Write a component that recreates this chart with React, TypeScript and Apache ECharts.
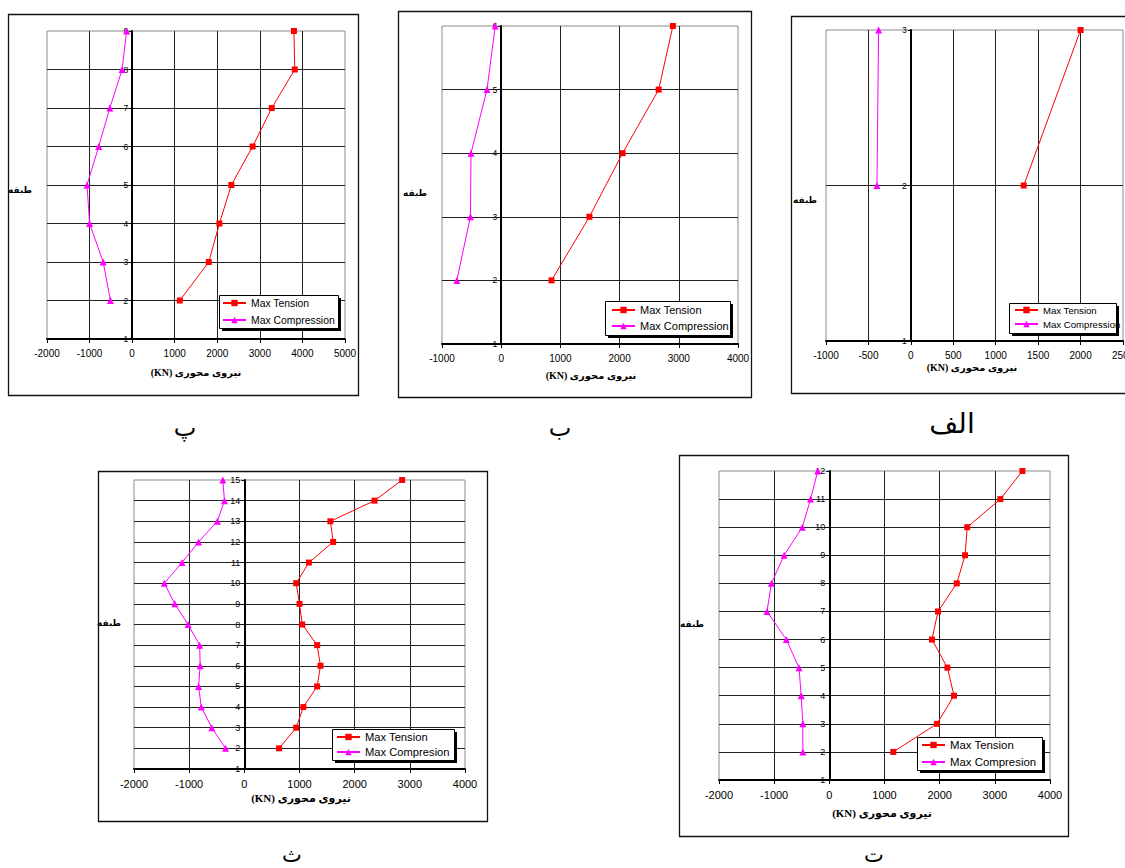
import { useEffect, useRef } from "react";
import * as echarts from "echarts";

// Axial force envelopes (kN) of the braced frame, one panel per building height
const floorsAlef = [2, 3];
const tensionAlef = [1330, 2000];
const compressionAlef = [-400, -380];

const floorsBe = [2, 3, 4, 5, 6];
const tensionBe = [850, 1490, 2050, 2660, 2900];
const compressionBe = [-750, -520, -510, -240, -100];

const floorsPe = [2, 3, 4, 5, 6, 7, 8, 9];
const tensionPe = [1120, 1800, 2050, 2330, 2830, 3280, 3820, 3800];
const compressionPe = [-510, -680, -1000, -1060, -785, -525, -235, -130];

const floorsTe = [2, 3, 4, 5, 6, 7, 8, 9, 10, 11, 12];
const tensionTe = [1160, 1950, 2260, 2140, 1860, 1970, 2310, 2460, 2500, 3100, 3500];
const compressionTe = [-480, -480, -510, -550, -780, -1130, -1050, -820, -490, -340, -210];

const floorsSe = [2, 3, 4, 5, 6, 7, 8, 9, 10, 11, 12, 13, 14, 15];
const tensionSe = [630, 940, 1070, 1320, 1380, 1320, 1050, 1000, 940, 1170, 1610, 1560, 2360, 2860];
const compressionSe = [-340, -590, -780, -830, -800, -810, -1020, -1260, -1450, -1130, -830, -490, -360, -390];

// x-axis ranges: [min, max, step]
const xRangeAlef = [-1000, 2500, 500];
const xRangeBe = [-1000, 4000, 1000];
const xRangePe = [-2000, 5000, 1000];
const xRangeTe = [-2000, 4000, 1000];
const xRangeSe = [-2000, 4000, 1000];

const legendNamesTop = ["Max Tension", "Max Compression"];
const legendNamesBottom = ["Max Tension", "Max Compresion"];

const yTitle = "طبقه";
const xTitle = "(KN) نیروی محوری";

const captionAlef = "الف";
const captionBe = "ب";
const captionPe = "پ";
const captionTe = "ت";
const captionSe = "ث";

const SANS = "'Liberation Sans', Arial, sans-serif";
const SERIF = "'Liberation Serif', 'Times New Roman', 'DejaVu Sans', serif";

type Panel = {
  floors: number[];
  tension: number[];
  compression: number[];
  xRange: number[];
  names: string[];
  caption: string;
  box: number[]; // x, y, w, h
  grid: number[]; // left, top, width, height
  legendBox: number[];
  legendLeft: number;
  legendItemY: number;
  legendStep: number;
  legendFont: number;
  tickFont: number;
  floorFont: number;
  xTitleAt: number[];
  yTitleAt: number[];
  captionAt: number[];
  captionSize: number;
};

const panels: Panel[] = [
  {
    floors: floorsPe, tension: tensionPe, compression: compressionPe, xRange: xRangePe,
    names: legendNamesTop, caption: captionPe,
    box: [8, 14, 350, 381], grid: [47, 31, 298, 308],
    legendBox: [219, 295, 119, 33], legendLeft: 222, legendItemY: 303, legendStep: 17, legendFont: 10.4,
    tickFont: 10, floorFont: 8.5,
    xTitleAt: [196, 372], yTitleAt: [20, 190], captionAt: [185, 428], captionSize: 24,
  },
  {
    floors: floorsBe, tension: tensionBe, compression: compressionBe, xRange: xRangeBe,
    names: legendNamesTop, caption: captionBe,
    box: [398, 11, 353, 386], grid: [442, 26, 296, 318],
    legendBox: [605, 301, 125, 34], legendLeft: 611, legendItemY: 310, legendStep: 16, legendFont: 11,
    tickFont: 10, floorFont: 8.5,
    xTitleAt: [591, 375], yTitleAt: [415, 193], captionAt: [560, 428], captionSize: 24,
  },
  {
    floors: floorsAlef, tension: tensionAlef, compression: compressionAlef, xRange: xRangeAlef,
    names: legendNamesTop, caption: captionAlef,
    box: [791, 16, 400, 377], grid: [826, 30, 297, 311],
    legendBox: [1009, 303, 107, 30], legendLeft: 1014, legendItemY: 310, legendStep: 14, legendFont: 9.6,
    tickFont: 10, floorFont: 8.5,
    xTitleAt: [972, 367], yTitleAt: [805, 200], captionAt: [952, 423], captionSize: 28,
  },
  {
    floors: floorsSe, tension: tensionSe, compression: compressionSe, xRange: xRangeSe,
    names: legendNamesBottom, caption: captionSe,
    box: [98, 471, 389, 350], grid: [134, 480, 331, 289],
    legendBox: [332, 729, 122, 31], legendLeft: 336, legendItemY: 737, legendStep: 15, legendFont: 11.2,
    tickFont: 11, floorFont: 9,
    xTitleAt: [301, 798], yTitleAt: [109, 623], captionAt: [292, 855], captionSize: 21,
  },
  {
    floors: floorsTe, tension: tensionTe, compression: compressionTe, xRange: xRangeTe,
    names: legendNamesBottom, caption: captionTe,
    box: [679, 455, 389, 381], grid: [719, 471, 331, 309],
    legendBox: [917, 737, 125, 33], legendLeft: 921, legendItemY: 745, legendStep: 17, legendFont: 11.4,
    tickFont: 11, floorFont: 9,
    xTitleAt: [882, 813], yTitleAt: [692, 624], captionAt: [874, 855], captionSize: 21,
  },
];

const plain = (v: number) => String(v);

function buildOption() {
  const grid = panels.map((p) => ({
    left: p.grid[0],
    top: p.grid[1],
    width: p.grid[2],
    height: p.grid[3],
    show: true,
    borderColor: "#8c8c8c",
    borderWidth: 1,
    backgroundColor: "transparent",
    containLabel: false,
    outerBoundsMode: "none",
  }));

  const xAxis = panels.map((p, i) => ({
    type: "value",
    gridIndex: i,
    min: p.xRange[0],
    max: p.xRange[1],
    interval: p.xRange[2],
    axisLine: { onZero: false, lineStyle: { color: "#000", width: 2 } },
    axisTick: { show: true, inside: false, length: 4, lineStyle: { color: "#000", width: 1 } },
    axisLabel: { color: "#000", fontSize: p.tickFont, fontFamily: SANS, margin: 9, formatter: plain },
    splitLine: {
      show: true,
      showMinLine: false,
      showMaxLine: false,
      lineStyle: { color: "#222", width: 1 },
    },
  }));

  // the floor axis sits on the zero-force line, so it is shifted right from the grid's left edge
  const yAxis = panels.map((p, i) => {
    const zeroShift = ((0 - p.xRange[0]) / (p.xRange[1] - p.xRange[0])) * p.grid[2];
    return {
      type: "value",
      gridIndex: i,
      min: 1,
      max: p.floors[p.floors.length - 1],
      interval: 1,
      position: "left",
      offset: -zeroShift,
      axisLine: { onZero: false, lineStyle: { color: "#000", width: 2 } },
      axisTick: { show: true, inside: false, length: 3, lineStyle: { color: "#000", width: 1 } },
      axisLabel: { color: "#000", fontSize: p.floorFont, fontFamily: SANS, margin: 4, formatter: plain },
      splitLine: {
        show: true,
        showMinLine: false,
        showMaxLine: false,
        lineStyle: { color: "#222", width: 1 },
      },
    };
  });

  const series: any[] = [];
  panels.forEach((p, i) => {
    series.push({
      type: "line",
      name: p.names[0],
      xAxisIndex: i,
      yAxisIndex: i,
      data: p.floors.map((f, k) => [p.tension[k], f]),
      symbol: "rect",
      symbolSize: 6,
      showAllSymbol: true,
      clip: false,
      itemStyle: { color: "#ff0000" },
      lineStyle: { color: "#ff0000", width: 1 },
      z: 3,
    });
    series.push({
      type: "line",
      name: p.names[1],
      xAxisIndex: i,
      yAxisIndex: i,
      data: p.floors.map((f, k) => [p.compression[k], f]),
      symbol: "triangle",
      symbolSize: 7,
      showAllSymbol: true,
      clip: false,
      itemStyle: { color: "#ff00ff" },
      lineStyle: { color: "#ff00ff", width: 1 },
      z: 3,
    });
  });

  const legend = panels.map((p) => ({
    data: p.names,
    orient: "vertical",
    left: p.legendLeft,
    top: p.legendItemY - 6,
    padding: 0,
    itemWidth: 23,
    itemHeight: 8,
    itemGap: p.legendStep - 12,
    selectedMode: false,
    z: 20,
    textStyle: { color: "#000", fontSize: p.legendFont, fontFamily: SANS, lineHeight: 12 },
  }));

  const graphic: any[] = [];
  panels.forEach((p) => {
    const [bx, by, bw, bh] = p.box;
    graphic.push({
      type: "rect",
      z: 0,
      shape: { x: bx + 0.5, y: by + 0.5, width: bw, height: bh },
      style: { fill: "none", stroke: "#111", lineWidth: 1.3 },
    });
    const [lx, ly, lw, lh] = p.legendBox;
    graphic.push({
      type: "rect",
      z: 10,
      shape: { x: lx + 3, y: ly + 3, width: lw, height: lh },
      style: { fill: "#000" },
    });
    graphic.push({
      type: "rect",
      z: 11,
      shape: { x: lx + 0.5, y: ly + 0.5, width: lw, height: lh },
      style: { fill: "#fff", stroke: "#000", lineWidth: 1 },
    });
    graphic.push({
      type: "text",
      z: 12,
      x: p.xTitleAt[0],
      y: p.xTitleAt[1],
      style: {
        text: xTitle,
        font: `bold ${p.tickFont}px ${SERIF}`,
        fill: "#000",
        textAlign: "center",
        textVerticalAlign: "middle",
      },
    });
    graphic.push({
      type: "text",
      z: 12,
      x: p.yTitleAt[0],
      y: p.yTitleAt[1],
      style: {
        text: yTitle,
        font: `bold 9px ${SERIF}`,
        fill: "#000",
        textAlign: "center",
        textVerticalAlign: "middle",
      },
    });
    graphic.push({
      type: "text",
      z: 12,
      x: p.captionAt[0],
      y: p.captionAt[1],
      style: {
        text: p.caption,
        font: `${p.captionSize}px ${SERIF}`,
        fill: "#000",
        textAlign: "center",
        textVerticalAlign: "middle",
      },
    });
  });

  return {
    animation: false,
    backgroundColor: "#fff",
    grid,
    xAxis,
    yAxis,
    series,
    legend,
    graphic,
  };
}

export default function App() {
  const ref = useRef<HTMLDivElement>(null);

  useEffect(() => {
    if (!ref.current) return;
    const chart = echarts.init(ref.current, undefined, { renderer: "svg" });
    chart.setOption(buildOption() as any);
    return () => chart.dispose();
  }, []);

  return (
    <div
      style={{
        position: "fixed",
        left: 0,
        top: 0,
        width: 1125,
        height: 868,
        overflow: "hidden",
        background: "#fff",
      }}
    >
      <div ref={ref} style={{ width: 1125, height: 868 }} />
    </div>
  );
}
